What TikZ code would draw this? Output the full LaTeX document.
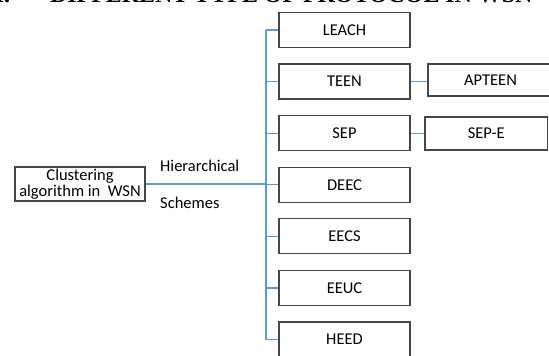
\documentclass[tikz,border=0pt]{standalone}
\usepackage{fontspec}
\setmainfont{Carlito}
\newfontfamily\headfont{Liberation Serif}
\usepackage{tikz}
\usetikzlibrary{shapes,arrows,positioning}
\definecolor{branchblue}{RGB}{91,155,213}
\definecolor{boxgray}{RGB}{70,70,70}
\tikzstyle{block} = [rectangle, minimum width=131pt, minimum height=35pt, draw=boxgray, line width=1.2pt, font=\fontsize{16.5}{15.5}\selectfont]
\tikzstyle{link} = [draw=branchblue, line width=1.2pt]

\begin{document}
\begin{tikzpicture}[x=1pt, y=1pt, node distance=51.6pt]
        \useasboundingbox (0,0) rectangle (549,356);
        % section heading, cut off at the top
        \node (head) [anchor=base west, inner sep=0pt, font=\headfont\bfseries\fontsize{23.9}{28}\selectfont] at (-14.6,353) {II.\hspace{40pt}DIFFERENT TYPE OF PROTOCOL IN WSN};

        \node (0) [block, minimum width=130pt, minimum height=34pt, align=center, inner sep=1pt] at (80,172) {Clustering\\algorithm in\ \ WSN};
        \node (1) [block] at (344.5,326) {LEACH};
        \node (2) [block, below of=1] {TEEN};
        \node (3) [block, below of=2] {SEP};
        \node (4) [block, below of=3] {DEEC};
        \node (5) [block, below of=4] {EECS};
        \node (6) [block, below of=5] {EEUC};
        \node (7) [block, below of=6] {HEED};
        \node (8) [block, minimum width=125pt, minimum height=32pt] at (490.5,276) {APTEEN};
        \node (9) [block, minimum width=122.5pt, minimum height=33pt] at (486.25,222.5) {SEP-E};

        \node (hier) [anchor=base west, inner sep=0pt, font=\fontsize{16.5}{19}\selectfont] at (160,184) {Hierarchical};
        \node (sch) [anchor=base west, inner sep=0pt, font=\fontsize{16.5}{19}\selectfont] at (160,147) {Schemes};

        % tree lines
        \coordinate (trunk) at (266,0);
        \draw[link] (0.east) -- (0.east -| trunk);
        \draw[link] (1.west -| trunk) -- (7.west -| trunk);
        \foreach \i in {1,...,7}
            \draw[link] (\i.west -| trunk) -- (\i.west);
        \draw[link] (2.east) -- (2.east -| 8.west);
        \draw[link] (3.east) -- (3.east -| 9.west);
    \end{tikzpicture}
\end{document}
